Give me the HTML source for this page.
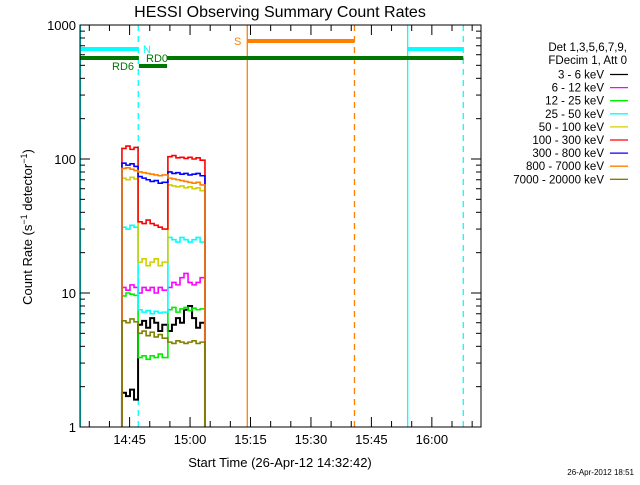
<!DOCTYPE html>
<html><head><meta charset="utf-8"><style>
body{margin:0;background:#fff;width:640px;height:480px;overflow:hidden}
svg text{font-family:"Liberation Sans",sans-serif}
</style></head><body>
<svg id="c" width="640" height="480" xmlns="http://www.w3.org/2000/svg">
<text x="280" y="17" font-size="16" text-anchor="middle">HESSI Observing Summary Count Rates</text>
<text transform="translate(32,227) rotate(-90)" font-size="13" text-anchor="middle">Count Rate (s<tspan baseline-shift="super" font-size="9">−1</tspan> detector<tspan baseline-shift="super" font-size="9">−1</tspan>)</text>
<text x="280" y="467" font-size="13" text-anchor="middle">Start Time (26-Apr-12 14:32:42)</text>
<text x="634" y="475" font-size="8" text-anchor="end">26-Apr-2012 18:51</text>
<g id="legend">
<text x="627" y="51" font-size="11.5" text-anchor="end">Det 1,3,5,6,7,9,</text>
<text x="627" y="64" font-size="11.5" text-anchor="end">FDecim 1, Att 0</text>
</g>
<g id="plot"></g>
</svg>
<script>
const bands = ["3 - 6 keV","6 - 12 keV","12 - 25 keV","25 - 50 keV","50 - 100 keV","100 - 300 keV","300 - 800 keV","800 - 7000 keV","7000 - 20000 keV"];
const colors = ["#000000","#ff00ff","#00ee00","#00ffff","#d0d000","#ff0000","#0000ff","#ff8000","#808000"];
// minutes after 14:30
const times = [13.1,14.1,15.1,16.1,17.1,18.1,19.1,20.1,21.1,22.1,23.1,24.5,25.5,26.5,27.5,28.5,29.5,30.5,31.5,32.5];
const endTime = 33.7;
const rate3to6 = [1.8,1.7,1.9,1.6,5.8,6.2,5.5,6.5,6.0,5.2,5.8,5.2,5.8,6.5,6.0,7.5,8.0,6.5,5.5,6.0];
const rate6to12 = [11,10.5,11.5,11,10,11,10.5,11,10,11,10.5,11,12,11.5,13,14,12,11.5,12,13];
const rate12to25 = [9.5,10,9.8,9.6,3.3,3.4,3.2,3.4,3.3,3.5,3.3,7.5,7.8,7.2,7.6,7.8,7.4,7.7,7.5,7.6];
const rate25to50 = [31,30,32,31,7.5,7.2,7.4,7.0,7.3,7.1,7.2,26,25,24,26,25,24,25,26,24];
const rate50to100 = [72,70,73,71,17,18,16,17,18,16,17,64,63,62,63,61,62,60,61,58];
const rate100to300 = [120,125,118,122,34,33,35,33,32,31,30,104,106,102,103,101,103,100,102,98];
const rate300to800 = [93,90,92,88,74,72,70,68,69,66,67,80,78,79,77,78,76,77,78,75];
const rate800to7000 = [85,86,84,82,80,79,78,77,76,75,76,72,71,70,69,68,67,66,67,64];
const rate7000to20000 = [6.2,6.0,6.4,6.1,5.0,5.2,4.8,5.1,4.7,4.9,4.6,4.3,4.2,4.4,4.3,4.2,4.3,4.4,4.2,4.3];
const series = [rate3to6,rate6to12,rate12to25,rate25to50,rate50to100,rate100to300,rate300to800,rate800to7000,rate7000to20000];
const xTickLabels = ["14:45","15:00","15:15","15:30","15:45","16:00"];
const xTickMinutes = [15,30,45,60,75,90];
const yTickLabels = ["1","10","100","1000"];

const L=80,R=481,T=25,B=427;
const x = m => 129.6 + (m-15)*4.03;
const y = v => B - Math.log10(v)*(B-T)/3;
const NS="http://www.w3.org/2000/svg";
const plot=document.getElementById('plot');
function mk(tag,attrs,parent){const e=document.createElementNS(NS,tag);for(const k in attrs)e.setAttribute(k,attrs[k]);(parent||plot).appendChild(e);return e;}

const defs=mk('defs',{});const cp=mk('clipPath',{id:'clip'},defs);mk('rect',{x:L,y:T,width:R-L,height:B-T},cp);
const data=mk('g',{'clip-path':'url(#clip)'});



function vline(m,col,dash,name){const e=mk('line',{x1:x(m),x2:x(m),y1:T,y2:B,stroke:col,'stroke-width':1.3,'stroke-dasharray':dash?'6,5':'none'},data);

}
vline(2.8,'#00ffff',false,'night-end-line');
vline(17.15,'#00ffff',true,'night-start-dashed');
vline(44.2,'#ff8000',false,'saa-start-line');
vline(70.8,'#ff8000',true,'saa-end-dashed');
vline(84,'#00ffff',false,'night-start-line');
vline(97.8,'#00ffff',true,'night-end-dashed');

series.forEach((vals,i)=>{
  let pts=[[x(times[0]),B+5]];
  vals.forEach((v,j)=>{const t1=x(times[j]),t2=x(j+1<times.length?times[j+1]:endTime);pts.push([t1,y(v)]);pts.push([t2,y(v)]);});
  pts.push([x(endTime),B+5]);
  const e=mk('polyline',{points:pts.map(p=>p.join(',')).join(' '),fill:'none',stroke:colors[i],'stroke-width':i==0?2:1.6},data);
  
  
});

function bar(m1,m2,yy,col,name){const e=mk('line',{x1:x(m1),x2:x(m2),y1:yy,y2:yy,stroke:col,'stroke-width':4},data);

}
bar(2,17.15,49,'#00ffff','night-bar-1');
bar(84,97.8,49,'#00ffff','night-bar-2');
bar(44.2,70.8,41,'#ff8000','saa-bar');
bar(2,17.3,58,'#007700','rd6-bar-1');
bar(24.3,97.8,58,'#007700','rd6-bar-2');
bar(17.3,24.3,66,'#007700','rd0-bar');
function lab(tx,xx,yy,col,name){const e=mk('text',{x:xx,y:yy,fill:col,'font-size':11},data);e.textContent=tx;

}
lab('N',143,53,'#00ffff','night-label');
lab('S',234,45,'#ff8000','saa-label');
lab('RD6',112,70,'#007700','rd6-label');
lab('RD0',146,62,'#007700','rd0-label');

const fr=mk('rect',{x:L,y:T,width:R-L,height:B-T,fill:'none',stroke:'#000','stroke-width':1});


for(let m=5;m<=100;m+=5){const xx=x(m);if(xx<L||xx>R)continue;const len=(m%15==0)?10:6;
 mk('line',{x1:xx,x2:xx,y1:B,y2:B-len,stroke:'#000'});mk('line',{x1:xx,x2:xx,y1:T,y2:T+len,stroke:'#000'});}
xTickLabels.forEach((s,i)=>{const e=mk('text',{x:x(xTickMinutes[i]),y:444,'font-size':13,'text-anchor':'middle'});e.textContent=s;

});
for(let d=0;d<3;d++){for(let k=1;k<=9;k++){const v=k*Math.pow(10,d);const yy=y(v);const len=k==1?10:5;
 mk('line',{x1:L,x2:L+len,y1:yy,y2:yy,stroke:'#000'});mk('line',{x1:R,x2:R-len,y1:yy,y2:yy,stroke:'#000'});}}
yTickLabels.forEach((s,i)=>{const e=mk('text',{x:76,y:y(Math.pow(10,i))+5,'font-size':13,'text-anchor':'end'});e.textContent=s;

});

const lg=document.getElementById('legend');
bands.forEach((b,i)=>{const yy=74.5+i*13.1;
 const t=mk('text',{x:604,y:yy+4,'font-size':11.5,'text-anchor':'end'},lg);t.textContent=b;
 
 
 const l=mk('line',{x1:610,x2:628,y1:yy,y2:yy,stroke:colors[i],'stroke-width':1.3},lg);
 
 });
</script>
</body></html>
